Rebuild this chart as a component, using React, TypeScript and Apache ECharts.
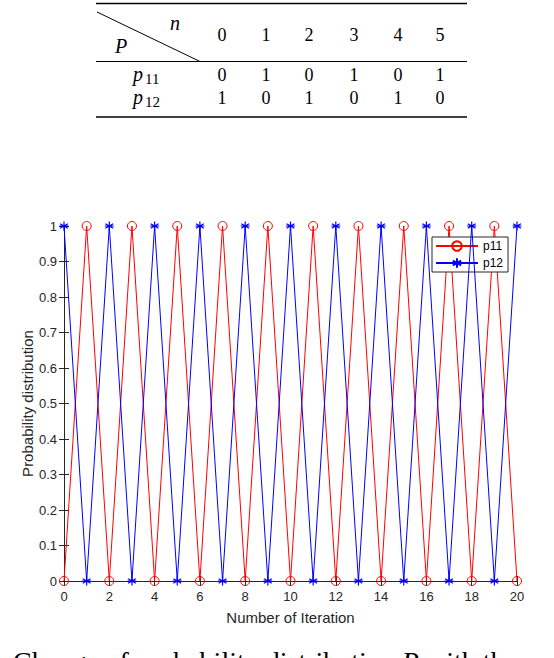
import React, { useEffect, useRef } from "react";
import * as echarts from "echarts";

// ---- Table data ----
const tableSteps = ["0", "1", "2", "3", "4", "5"];
const tableP11 = ["0", "1", "0", "1", "0", "1"];
const tableP12 = ["1", "0", "1", "0", "1", "0"];

// ---- Chart data ----
const iterations = [0, 1, 2, 3, 4, 5, 6, 7, 8, 9, 10, 11, 12, 13, 14, 15, 16, 17, 18, 19, 20];
const p11 = [0, 1, 0, 1, 0, 1, 0, 1, 0, 1, 0, 1, 0, 1, 0, 1, 0, 1, 0, 1, 0];
const p12 = [1, 0, 1, 0, 1, 0, 1, 0, 1, 0, 1, 0, 1, 0, 1, 0, 1, 0, 1, 0, 1];
const seriesNames = ["p11", "p12"];

const SERIF = "'Liberation Serif', 'DejaVu Serif', serif";
const SANS = "'Liberation Sans', Arial, Helvetica, sans-serif";
const AX = "#262626";

const ASTERISK =
  "path://M0,-10L0,10M-8.66,-5L8.66,5M-8.66,5L8.66,-5M-10,0L10,0";

export default function App() {
  const ref = useRef<HTMLDivElement>(null);
  useEffect(() => {
    if (!ref.current) return;
    const chart = echarts.init(ref.current, undefined, { renderer: "svg" });

    const colX = [222, 266, 309, 354, 398, 440];
    const tableGraphics: any[] = [];
    // rules
    tableGraphics.push({ type: "line", shape: { x1: 96, y1: 3.5, x2: 467, y2: 3.5 }, style: { stroke: "#000", lineWidth: 1.6 } });
    tableGraphics.push({ type: "line", shape: { x1: 96, y1: 61.5, x2: 467, y2: 61.5 }, style: { stroke: "#000", lineWidth: 1 } });
    tableGraphics.push({ type: "line", shape: { x1: 96, y1: 117, x2: 467, y2: 117 }, style: { stroke: "#000", lineWidth: 1.6 } });
    // diagonal
    tableGraphics.push({ type: "line", shape: { x1: 97, y1: 12, x2: 200, y2: 61.5 }, style: { stroke: "#000", lineWidth: 1 } });
    tableGraphics.push({ type: "text", x: 175, y: 23, style: { text: "n", font: `italic 20px ${SERIF}`, fill: "#000", textAlign: "center", textVerticalAlign: "middle" } });
    tableGraphics.push({ type: "text", x: 121, y: 46, style: { text: "P", font: `italic 20px ${SERIF}`, fill: "#000", textAlign: "center", textVerticalAlign: "middle" } });
    tableSteps.forEach((s, i) => {
      tableGraphics.push({ type: "text", x: colX[i], y: 35, style: { text: s, font: `18px ${SERIF}`, fill: "#000", textAlign: "center", textVerticalAlign: "middle" } });
      tableGraphics.push({ type: "text", x: colX[i], y: 75, style: { text: tableP11[i], font: `18px ${SERIF}`, fill: "#000", textAlign: "center", textVerticalAlign: "middle" } });
      tableGraphics.push({ type: "text", x: colX[i], y: 98, style: { text: tableP12[i], font: `18px ${SERIF}`, fill: "#000", textAlign: "center", textVerticalAlign: "middle" } });
    });
    const rowLabels = [
      { sub: "11", y: 74 },
      { sub: "12", y: 97 },
    ];
    rowLabels.forEach((r) => {
      tableGraphics.push({ type: "text", x: 138, y: r.y, style: { text: "p", font: `italic 20px ${SERIF}`, fill: "#000", textAlign: "center", textVerticalAlign: "middle" } });
      tableGraphics.push({ type: "text", x: 145, y: r.y + 5, style: { text: r.sub, font: `15px ${SERIF}`, fill: "#000", textAlign: "left", textVerticalAlign: "middle" } });
    });

    // caption (cut by bottom edge, as in the reference)
    const captionGraphics: any[] = [
      { type: "text", x: 8, y: 647, style: { text: "Fig. 2:", font: `28px ${SERIF}`, fill: "#000", textAlign: "right", textVerticalAlign: "top" } },
      {
        type: "text",
        x: 13,
        y: 647,
        style: {
          text: "{a|Change of probability distribution }{i|P}{a| with the number of iterations.}",
          textAlign: "left",
          textVerticalAlign: "top",
          rich: {
            a: { fontFamily: SERIF, fontSize: 28, color: "#000" },
            i: { fontFamily: SERIF, fontSize: 28, fontStyle: "italic", color: "#000" },
          },
        },
      },
    ];

    const axisCommon = {
      type: "value" as const,
      splitLine: { show: false },
      axisLine: { show: true, lineStyle: { color: AX, width: 1 } },
      axisTick: { show: true, inside: true, length: 5, lineStyle: { color: AX } },
    };

    chart.setOption({
      animation: false,
      backgroundColor: "#fff",
      grid: { left: 64, right: 37, top: 226, bottom: 77, containLabel: false },
      xAxis: [
        {
          ...axisCommon,
          position: "bottom",
          min: 0,
          max: 20,
          interval: 2,
          axisLabel: { color: AX, fontSize: 13, fontFamily: SANS, margin: 9 },
          name: "Number of Iteration",
          nameLocation: "middle",
          nameGap: 29,
          nameMoveOverlap: false,
          nameTextStyle: { color: AX, fontSize: 15, fontFamily: SANS },
        },
        {
          ...axisCommon,
          position: "top",
          min: 0,
          max: 20,
          interval: 2,
          axisLabel: { show: false },
        },
      ],
      yAxis: [
        {
          ...axisCommon,
          position: "left",
          min: 0,
          max: 1,
          interval: 0.1,
          axisLabel: { color: AX, fontSize: 13, fontFamily: SANS, margin: 7 },
          name: "Probability distribution",
          nameLocation: "middle",
          nameGap: 29,
          nameMoveOverlap: false,
          nameTextStyle: { color: AX, fontSize: 15, fontFamily: SANS },
        },
        {
          ...axisCommon,
          position: "right",
          min: 0,
          max: 1,
          interval: 0.1,
          axisLabel: { show: false },
        },
      ],
      legend: {
        show: true,
        orient: "vertical",
        left: 432,
        top: 237,
        data: seriesNames,
        backgroundColor: "#fff",
        borderColor: "#262626",
        borderWidth: 1,
        borderRadius: 0,
        padding: [3, 5, 3, 3],
        itemWidth: 42,
        itemHeight: 12,
        itemGap: 5,
        textStyle: { color: "#000", fontSize: 12, fontFamily: SANS },
      },
      series: [
        {
          name: seriesNames[0],
          type: "line",
          xAxisIndex: 0,
          yAxisIndex: 0,
          data: iterations.map((x, i) => [x, p11[i]]),
          clip: false,
          symbol: "circle",
          symbolSize: 9,
          showAllSymbol: true,
          lineStyle: { color: "#ff0000", width: 1 },
          itemStyle: { color: "rgba(0,0,0,0)", borderColor: "#ff0000", borderWidth: 1 },
          emphasis: { disabled: true },
          z: 3,
        },
        {
          name: seriesNames[1],
          type: "line",
          xAxisIndex: 0,
          yAxisIndex: 0,
          data: iterations.map((x, i) => [x, p12[i]]),
          clip: false,
          symbol: ASTERISK,
          symbolSize: 9,
          showAllSymbol: true,
          lineStyle: { color: "#0000ff", width: 1 },
          itemStyle: { color: "#0000ff", borderColor: "#0000ff", borderWidth: 1.2 },
          emphasis: { disabled: true },
          z: 4,
        },
      ],
      graphic: [...tableGraphics, ...captionGraphics],
    });
    return () => chart.dispose();
  }, []);
  return (
    <div
      ref={ref}
      style={{ position: "fixed", left: 0, top: 0, width: 554, height: 658, background: "#fff" }}
    />
  );
}
